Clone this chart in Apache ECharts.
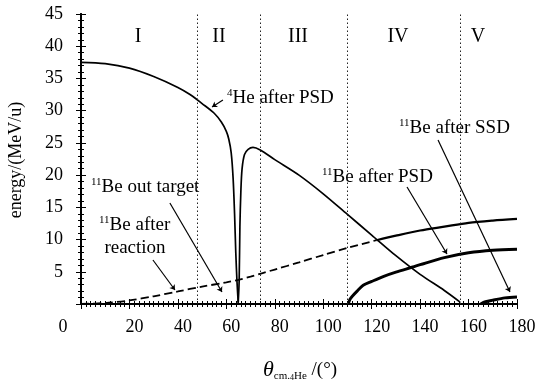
<!DOCTYPE html>
<html>
<head>
<meta charset="utf-8">
<script src="https://cdn.jsdelivr.net/npm/echarts@6/dist/echarts.min.js"></script>
<style>
  html, body { margin: 0; padding: 0; background: #fff; }
  #chart { width: 541px; height: 381px; }
</style>
</head>
<body>
<div id="chart"></div>
<script>
// 4He after PSD, left branch (down into the dip) and right branch
const heLeftTheta  = [0, 10, 20, 30, 40, 45, 50, 55, 58, 60, 61, 62, 62.8, 63.4, 63.9, 64.4, 64.9];
const heLeftEnergy = [37.5, 37.3, 36.6, 35.3, 33.6, 32.5, 31.1, 29.6, 28.2, 26.8, 25.6, 23.5, 19.5, 14, 8, 3.5, 0.2];
const heRightTheta  = [64.9, 65.3, 65.6, 66, 66.5, 67.5, 69, 71, 74, 80, 90, 100, 110, 120, 130, 140, 150, 156.5];
const heRightEnergy = [0.2, 3.7, 12, 17.5, 21, 23.2, 24.0, 24.3, 23.9, 22.4, 20.0, 17.1, 13.9, 10.7, 7.5, 4.6, 2.1, 0.3];
// 11Be after reaction (dashed part) and out of target (solid part)
const beReactTheta  = [0, 10, 20, 30, 40, 50, 60, 65, 70, 75, 80, 90, 100, 110, 122];
const beReactEnergy = [0, 0.15, 0.55, 1.2, 1.95, 2.7, 3.35, 3.75, 4.25, 4.8, 5.35, 6.45, 7.6, 8.7, 9.9];
const beTargetTheta  = [122, 130, 140, 150, 160, 170, 180];
const beTargetEnergy = [9.9, 10.6, 11.4, 12.0, 12.6, 12.95, 13.2];
// 11Be after PSD
const bePsdTheta  = [110.3, 111, 112, 114, 116.5, 120, 125, 130, 137, 140, 150, 160, 170, 180];
const bePsdEnergy = [0, 0.7, 1.2, 2.0, 2.9, 3.5, 4.3, 4.95, 5.74, 6.1, 7.2, 7.95, 8.35, 8.5];
// 11Be after SSD
const beSsdTheta  = [165, 167, 170, 175, 180];
const beSsdEnergy = [0, 0.35, 0.6, 0.95, 1.1];
// region boundaries (I..V)
const regionBounds = [48, 74, 110, 156.5];
const regionNames = ['I', 'II', 'III', 'IV', 'V'];
// annotation pointers [from, to] in data coords
const pointers = [
  [[58.6, 31.65], [54.1, 30.57]],
  [[36.7, 15.67], [58.2, 1.86]],
  [[29.7, 6.83], [38.8, 2.17]],
  [[134.6, 18.15], [151.1, 7.76]],
  [[147.4, 25.45], [177.1, 1.86]]
];

const pairs = (xs, ys) => xs.map((x, i) => [x, ys[i]]);
const serif = '"Liberation Serif", "DejaVu Serif", serif';
const chart = echarts.init(document.getElementById('chart'));

const axisCommon = {
  type: 'value',
  axisLine: { show: true, lineStyle: { color: '#000', width: 2 } },
  axisTick: { inside: true, length: 5, lineStyle: { color: '#000', width: 1 } },
  minorTick: { show: true, splitNumber: 5, length: 3, lineStyle: { color: '#000', width: 1 } },
  splitLine: { show: false }
};

const regionX = [138, 219, 298, 398, 478];
const richSup = {
  t: { fontFamily: serif, fontSize: 19, lineHeight: 20, color: '#000' },
  s: { fontFamily: serif, fontSize: 11, lineHeight: 11, verticalAlign: 'top', color: '#000' }
};
function label(x, y, text) {
  return { type: 'text', x: x, y: y,
    style: { text: text, rich: richSup, align: 'left', verticalAlign: 'middle',
             fontFamily: serif, fontSize: 19, fill: '#000' } };
}

chart.setOption({
  animation: false,
  backgroundColor: '#fff',
  grid: { left: 81, right: 24, top: 14, bottom: 77 },
  xAxis: [
    Object.assign({}, axisCommon, {
      min: 0, max: 180, interval: 20, position: 'bottom',
      minorTick: Object.assign({}, axisCommon.minorTick, { splitNumber: 10 }),
      axisLabel: { margin: 14, color: '#000', fontFamily: serif, fontSize: 18,
        padding: [0, 0, 0, 10],
        formatter: v => v === 0 ? '' : String(v) }
    }),
    Object.assign({}, axisCommon, {
      min: 0, max: 180, interval: 20, position: 'top',
      minorTick: Object.assign({}, axisCommon.minorTick, { splitNumber: 10 }),
      axisLabel: { show: false }
    })
  ],
  yAxis: [
    Object.assign({}, axisCommon, {
      min: 0, max: 45, interval: 5, position: 'left',
      axisLabel: { margin: 18, color: '#000', fontFamily: serif, fontSize: 18,
        padding: [4, 0, 0, 0],
        formatter: v => v === 0 ? '' : String(v) }
    }),
    Object.assign({}, axisCommon, {
      min: 0, max: 45, interval: 5, position: 'right',
      axisLabel: { show: false }
    })
  ],
  series: [
    {
      name: '4He after PSD', type: 'line', showSymbol: false, smooth: 0.3,
      data: pairs(heLeftTheta, heLeftEnergy),
      lineStyle: { color: '#000', width: 1.7 },
      markLine: {
        silent: true, symbol: 'none', label: { show: false },
        lineStyle: { color: '#222', type: [1.5, 2.5], width: 1 },
        data: regionBounds.map(b => ({ xAxis: b }))
      }
    },
    {
      name: '4He after PSD (right)', type: 'line', showSymbol: false, smooth: 0.3,
      data: pairs(heRightTheta, heRightEnergy),
      lineStyle: { color: '#000', width: 1.7 }
    },
    {
      name: '11Be after reaction', type: 'line', showSymbol: false, smooth: 0.3,
      data: pairs(beReactTheta, beReactEnergy),
      lineStyle: { color: '#000', width: 1.8, type: [8, 4] },
      markLine: {
        silent: true, label: { show: false }, symbolSize: 5,
        lineStyle: { color: '#000', width: 1.2, type: 'solid' },
        data: pointers.map(p => [
          { coord: p[0], symbol: 'none' },
          { coord: p[1], symbol: 'arrow' }
        ])
      }
    },
    {
      name: '11Be out target', type: 'line', showSymbol: false, smooth: 0.3,
      data: pairs(beTargetTheta, beTargetEnergy),
      lineStyle: { color: '#000', width: 2.2 }
    },
    {
      name: '11Be after PSD', type: 'line', showSymbol: false, smooth: 0.3,
      data: pairs(bePsdTheta, bePsdEnergy),
      lineStyle: { color: '#000', width: 2.9 }
    },
    {
      name: '11Be after SSD', type: 'line', showSymbol: false, smooth: 0.3,
      data: pairs(beSsdTheta, beSsdEnergy),
      lineStyle: { color: '#000', width: 3 }
    }
  ],
  graphic: [
    ...regionNames.map((n, i) => ({
      type: 'text', x: regionX[i], y: 37,
      style: { text: n, fontFamily: serif, fontSize: 20, fill: '#000', align: 'center', verticalAlign: 'middle' }
    })),
    label(227, 98, '{s|4}{t|He after PSD}'),
    label(399, 128, '{s|11}{t|Be after SSD}'),
    label(322, 177, '{s|11}{t|Be after PSD}'),
    label(91, 187, '{s|11}{t|Be out target}'),
    label(99, 225, '{s|11}{t|Be after}'),
    { type: 'text', x: 135, y: 248,
      style: { text: 'reaction', fontFamily: serif, fontSize: 19, fill: '#000', align: 'center', verticalAlign: 'middle' } },
    { type: 'text', x: 63, y: 327,
      style: { text: '0', fontFamily: serif, fontSize: 18, fill: '#000', align: 'center', verticalAlign: 'middle' } },
    { type: 'text', x: 16, y: 160, rotation: Math.PI / 2,
      style: { text: 'energy/(MeV/u)', fontFamily: serif, fontSize: 18, fill: '#000', align: 'center', verticalAlign: 'middle' } },
    { type: 'text', x: 300, y: 370,
      style: {
        text: '{th|θ}{sub|cm.}{ss|4}{sub|He}{n| /(°)}',
        align: 'center', verticalAlign: 'middle', fill: '#000',
        rich: {
          th: { fontFamily: serif, fontStyle: 'italic', fontSize: 22, lineHeight: 24, color: '#000' },
          sub: { fontFamily: serif, fontSize: 11, lineHeight: 11, verticalAlign: 'bottom', color: '#000' },
          ss: { fontFamily: serif, fontSize: 8, lineHeight: 16, verticalAlign: 'bottom', color: '#000' },
          n: { fontFamily: serif, fontSize: 19, lineHeight: 24, color: '#000' }
        }
      } }
  ]
});
</script>
</body>
</html>
